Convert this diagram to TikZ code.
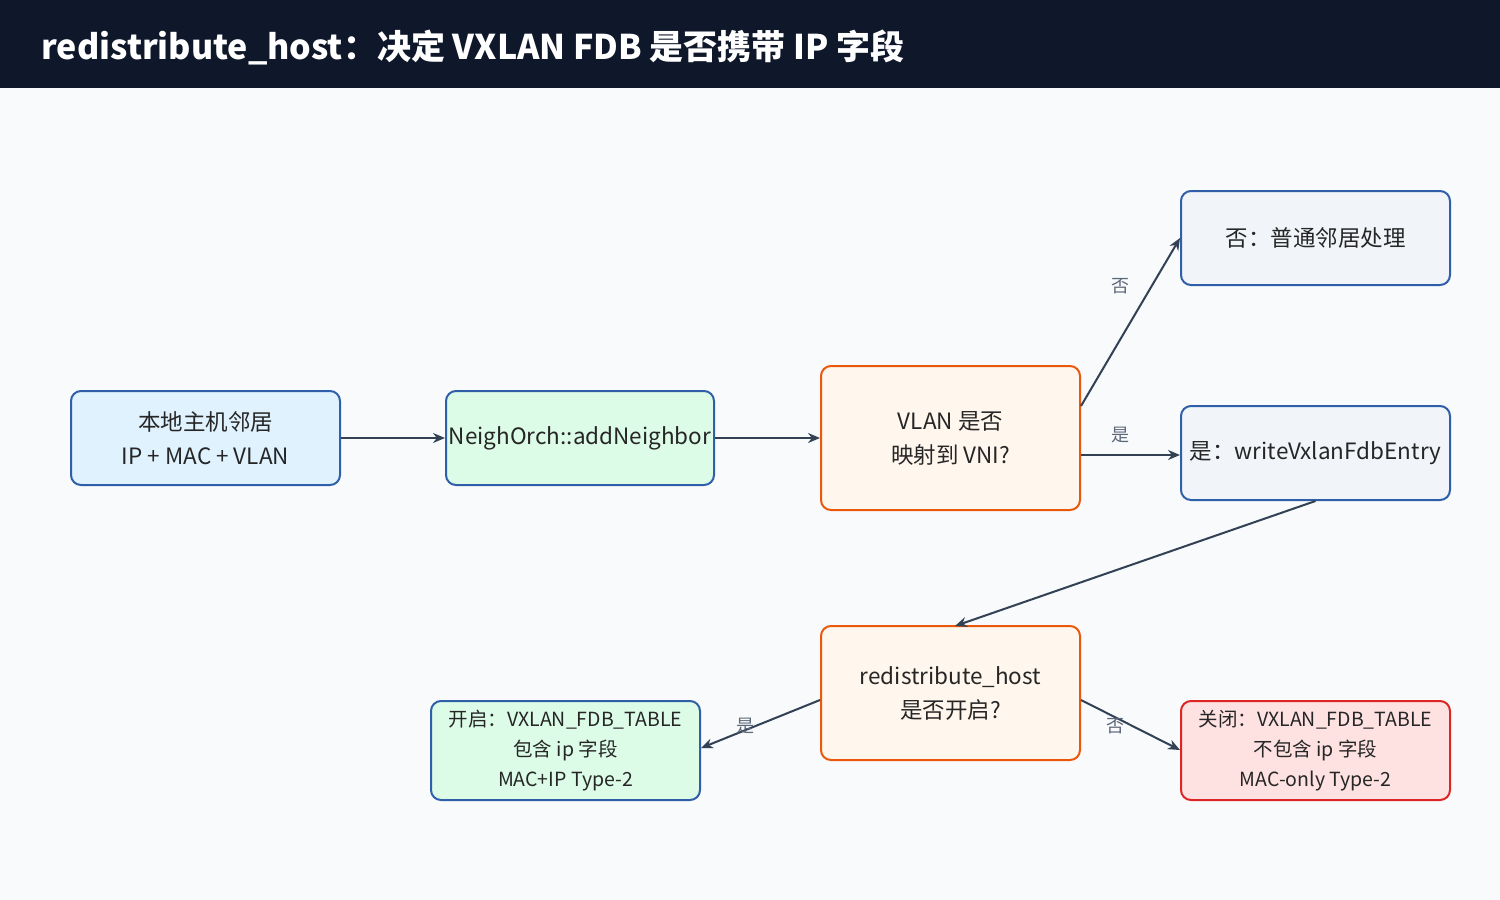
\documentclass[tikz,border=0pt]{standalone}
\usepackage{fontspec}
\setmainfont{Noto Sans CJK SC}
\usetikzlibrary{arrows.meta}
\definecolor{bg}{HTML}{F8FAFC}
\definecolor{bar}{HTML}{0F172A}
\definecolor{bblue}{HTML}{2F5FA8}
\definecolor{borange}{HTML}{EA580C}
\definecolor{bred}{HTML}{DC2626}
\definecolor{fblue}{HTML}{E0F2FE}
\definecolor{fgreen}{HTML}{DCFCE7}
\definecolor{forange}{HTML}{FFF7ED}
\definecolor{fgray}{HTML}{F1F5F9}
\definecolor{fred}{HTML}{FEE2E2}
\definecolor{ln}{HTML}{334155}
\begin{document}
\begin{tikzpicture}[x=1pt,y=-1pt,
 box/.style={draw=bblue,line width=2pt,rounded corners=10pt,inner sep=0pt,align=center,font=\fontsize{22.5}{34}\selectfont,text=black!85},
 sbox/.style={box,font=\fontsize{19.5}{30}\selectfont},
 arr/.style={draw=ln,line width=2pt,-{Stealth[length=12pt,width=10pt]}},
 lab/.style={font=\fontsize{18}{20}\selectfont,text=ln!80}]
\useasboundingbox (0,0) rectangle (1500,900);
\fill[bg] (0,0) rectangle (1500,900);
\fill[bar] (0,0) rectangle (1500,88);
\node[anchor=west,text=white,font=\fontsize{34}{38}\selectfont\bfseries] (title) at (38,47) {redistribute\_host：决定 VXLAN FDB 是否携带 IP 字段};
\node[box,fill=fblue,minimum width=269pt,minimum height=94pt] (A) at (205.5,438) {本地主机邻居\\IP + MAC + VLAN};
\node[box,fill=fgreen,minimum width=268pt,minimum height=94pt] (B) at (580,438) {NeighOrch::addNeighbor};
\node[box,draw=borange,fill=forange,minimum width=259pt,minimum height=144pt] (C) at (950.5,438) {VLAN 是否\\映射到 VNI?};
\node[box,fill=fgray,minimum width=269pt,minimum height=94pt] (D) at (1315.5,238) {否：普通邻居处理};
\node[box,fill=fgray,minimum width=269pt,minimum height=94pt] (E) at (1315.5,453) {是：writeVxlanFdbEntry};
\node[box,draw=borange,fill=forange,minimum width=259pt,minimum height=134pt] (F) at (950.5,693) {redistribute\_host\\是否开启?};
\node[sbox,fill=fgreen,minimum width=269pt,minimum height=99pt] (G) at (565.5,750.5) {开启：VXLAN\_FDB\_TABLE\\包含 ip 字段\\MAC+IP Type-2};
\node[sbox,draw=bred,fill=fred,minimum width=269pt,minimum height=99pt] (H) at (1315.5,750.5) {关闭：VXLAN\_FDB\_TABLE\\不包含 ip 字段\\MAC-only Type-2};
\draw[arr] (A.east) -- (B.west);
\draw[arr] (B.east) -- (C.west);
\draw[arr] (C.east |- 0,406) -- (D.west);
\draw[arr] (C.east |- 0,455) -- (E.west |- 0,455);
\draw[arr] (E.south) -- (955,626);
\draw[arr] (F.west |- 0,700) -- (G.east |- 0,748);
\draw[arr] (F.east |- 0,700) -- (H.west |- 0,750);
\node[lab] (l1) at (1120,286) {否};
\node[lab] (l2) at (1120,435) {是};
\node[lab] (l3) at (745,726) {是};
\node[lab] (l4) at (1115,726) {否};
\end{tikzpicture}
\end{document}
